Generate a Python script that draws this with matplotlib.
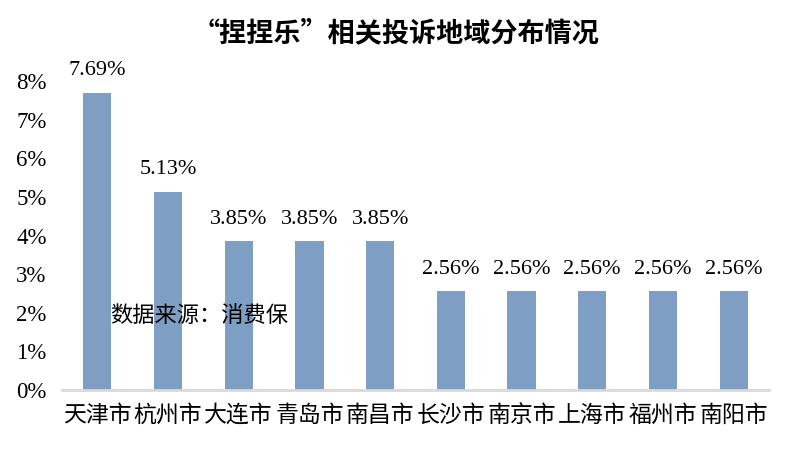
import matplotlib
matplotlib.use("Agg")
import matplotlib.pyplot as plt
from matplotlib.ticker import FuncFormatter

cities = ["天津市", "杭州市", "大连市", "青岛市", "南昌市",
          "长沙市", "南京市", "上海市", "福州市", "南阳市"]
shares = [7.69, 5.13, 3.85, 3.85, 3.85, 2.56, 2.56, 2.56, 2.56, 2.56]
yticks = [0, 1, 2, 3, 4, 5, 6, 7, 8]

cjk = ["Noto Sans CJK SC", "DejaVu Sans"]
serif = ["Liberation Serif", "DejaVu Serif"]

fig = plt.figure(figsize=(7.92, 4.51), dpi=100)
ax = fig.add_axes([62 / 792, 61 / 451, 707 / 792, 309 / 451])

x = range(len(cities))
ax.bar(x, shares, width=0.4, color="#7f9ec4")

for i, v in zip(x, shares):
    ax.annotate("{:.2f}%".format(v), (i, v), xytext=(0, 9),
                textcoords="offset points", ha="center", va="bottom",
                fontsize=16, family=serif)

ax.set_xlim(-0.5, len(cities) - 0.5)
ax.set_ylim(0, 8)
ax.set_yticks(yticks)
ax.yaxis.set_major_formatter(FuncFormatter(lambda v, p: "{:.0f}%".format(v)))
ax.set_xticks(list(x))
ax.set_xticklabels(cities, family=cjk, fontsize=16.5)
for lab in ax.get_yticklabels():
    lab.set_family(serif)
    lab.set_fontsize(16.5)

ax.tick_params(axis="both", length=0)
ax.tick_params(axis="y", pad=11)
ax.tick_params(axis="x", pad=10)
for s in ["top", "right", "left"]:
    ax.spines[s].set_visible(False)
ax.spines["bottom"].set_color("#d9d9d9")
ax.spines["bottom"].set_linewidth(2)

fig.text(0.5, 1 - 33 / 451, "“捏捏乐”相关投诉地域分布情况", ha="center", va="center",
         fontsize=19.5, fontweight="bold", family=cjk)
fig.text(110 / 792, 1 - 316 / 451, "数据来源：消费保", ha="left", va="center",
         fontsize=16, family=cjk)

fig.savefig("out.png", dpi=100)
